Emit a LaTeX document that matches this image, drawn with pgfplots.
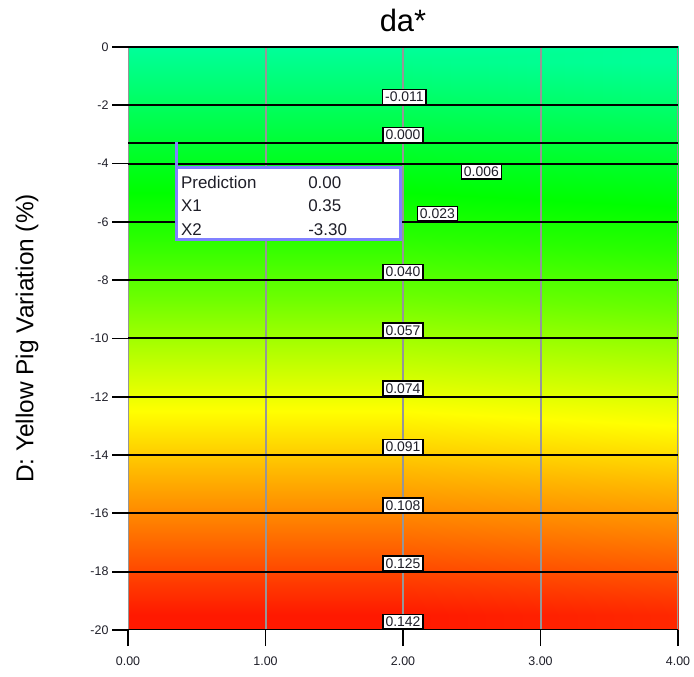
\documentclass[border=0pt]{standalone}
\usepackage{pgfplots}
\pgfplotsset{compat=1.18}
\usepackage{pgfplotstable}
\usepackage{fontspec}
\setmainfont{Liberation Sans}
\definecolor{boxblue}{RGB}{128,128,255}
\definecolor{gridgray}{RGB}{150,150,150}
\definecolor{labtext}{RGB}{30,30,40}
\pgfplotstableread{
x y
0 0
4 0
0 -1
4 -1
0 -2
4 -2
0 -3
4 -3
0 -4
4 -4
0 -5
4 -5
0 -6
4 -6
0 -7
4 -7
0 -8
4 -8
0 -9
4 -9
0 -10
4 -10
0 -11
4 -11
0 -12
4 -12
0 -13
4 -13
0 -14
4 -14
0 -15
4 -15
0 -16
4 -16
0 -17
4 -17
0 -18
4 -18
0 -19
4 -19
0 -20
4 -20
}\gradtab
\begin{document}
\begin{tikzpicture}
\path[use as bounding box] (0,0) rectangle (694bp,677bp);
\begin{axis}[
  at={(128bp,47bp)}, anchor=south west,
  scale only axis, width=550bp, height=583bp,
  xmin=0, xmax=4, ymin=-20, ymax=0,
  axis line style={draw=none},
  xtick={0,1,2,3,4}, xticklabels={0.00,1.00,2.00,3.00,4.00},
  ytick={-20,-18,...,0},
  yticklabels={-20,-18,-16,-14,-12,-10,-8,-6,-4,-2,0},
  xtick pos=bottom, ytick pos=left, tick align=outside,
  major tick length=16bp,
  tick style={black, line width=1.8bp},
  ticklabel style={font=\fontsize{12.5}{14}\selectfont, text=labtext},
  xticklabel style={yshift=-7bp},
  colormap={dx}{rgb255(0cm)=(255,25,0); rgb255(1cm)=(255,55,0); rgb255(3cm)=(255,120,0); rgb255(5cm)=(255,185,0); rgb255(7cm)=(255,255,0); rgb255(9cm)=(180,255,0); rgb255(11cm)=(105,255,0); rgb255(13cm)=(40,255,0); rgb255(14.5cm)=(0,255,0); rgb255(16cm)=(0,255,45); rgb255(18cm)=(0,255,110); rgb255(20cm)=(0,255,168)},
  point meta min=-20, point meta max=0,
  title={da*},
  title style={font=\fontsize{31}{36}\selectfont, at={(axis description cs:0.5,1)}, anchor=base, yshift=10bp},
  ylabel={D: Yellow Pig Variation (\%)},
  ylabel style={font=\fontsize{24.5}{28}\selectfont, at={(axis description cs:-0.1836,0.5)}, anchor=center},
]
\addplot[matrix plot*, shader=interp, mesh/cols=2, point meta=\thisrow{y}] table[x=x, y=y] {\gradtab};
% vertical grid lines
\addplot[gridgray, line width=2bp] coordinates {(0,0) (0,-20)};
\addplot[gridgray, line width=2bp] coordinates {(1,0) (1,-20)};
\addplot[gridgray, line width=2bp] coordinates {(2,0) (2,-20)};
\addplot[gridgray, line width=2bp] coordinates {(3,0) (3,-20)};
\addplot[gridgray, line width=2bp] coordinates {(4,0) (4,-20)};
% contour lines
\addplot[black, line width=2.2bp] coordinates {(0,0) (4,0)};
\addplot[black, line width=2bp] coordinates {(0,-2) (4,-2)};
\addplot[black, line width=2bp] coordinates {(0,-3.3) (4,-3.3)};
\addplot[black, line width=2bp] coordinates {(0,-4) (4,-4)};
\addplot[black, line width=2bp] coordinates {(0,-6) (4,-6)};
\addplot[black, line width=2bp] coordinates {(0,-8) (4,-8)};
\addplot[black, line width=2bp] coordinates {(0,-10) (4,-10)};
\addplot[black, line width=2bp] coordinates {(0,-12) (4,-12)};
\addplot[black, line width=2bp] coordinates {(0,-14) (4,-14)};
\addplot[black, line width=2bp] coordinates {(0,-16) (4,-16)};
\addplot[black, line width=2bp] coordinates {(0,-18) (4,-18)};
\addplot[black, line width=2.2bp] coordinates {(0,-20) (4,-20)};
% contour labels
\tikzset{lab/.style={draw=black, line width=1.5bp, fill=white, text=labtext, font=\fontsize{14}{16}\selectfont, inner xsep=2.5bp, inner ysep=2.5bp}}
\node[lab, anchor=south] at (axis cs:2.01,-2) {-0.011};
\node[lab, anchor=south] at (axis cs:2.0,-3.3) {0.000};
\node[lab, anchor=north] at (axis cs:2.57,-4) {0.006};
\node[lab, anchor=south] at (axis cs:2.25,-6) {0.023};
\node[lab, anchor=south] at (axis cs:2.0,-8) {0.040};
\node[lab, anchor=south] at (axis cs:2.0,-10) {0.057};
\node[lab, anchor=south] at (axis cs:2.0,-12) {0.074};
\node[lab, anchor=south] at (axis cs:2.0,-14) {0.091};
\node[lab, anchor=south] at (axis cs:2.0,-16) {0.108};
\node[lab, anchor=south] at (axis cs:2.0,-18) {0.125};
\node[lab, anchor=south] at (axis cs:2.0,-20) {0.142};
% prediction popup
\draw[boxblue, line width=3bp] (axis cs:0.35,-3.25) -- (axis cs:0.35,-4.15);
\draw[boxblue, line width=3bp, fill=white] (axis cs:0.35,-4.15) rectangle (axis cs:1.98,-6.62);
\tikzset{pop/.style={anchor=base west, text=labtext, font=\fontsize{17}{20}\selectfont, inner sep=0pt}}
\node[pop] at (axis cs:0.385,-4.87) {Prediction};
\node[pop] at (axis cs:0.385,-5.66) {X1};
\node[pop] at (axis cs:0.385,-6.45) {X2};
\node[pop] at (axis cs:1.31,-4.87) {0.00};
\node[pop] at (axis cs:1.31,-5.66) {0.35};
\node[pop] at (axis cs:1.31,-6.45) {-3.30};
\end{axis}
\end{tikzpicture}
\end{document}
